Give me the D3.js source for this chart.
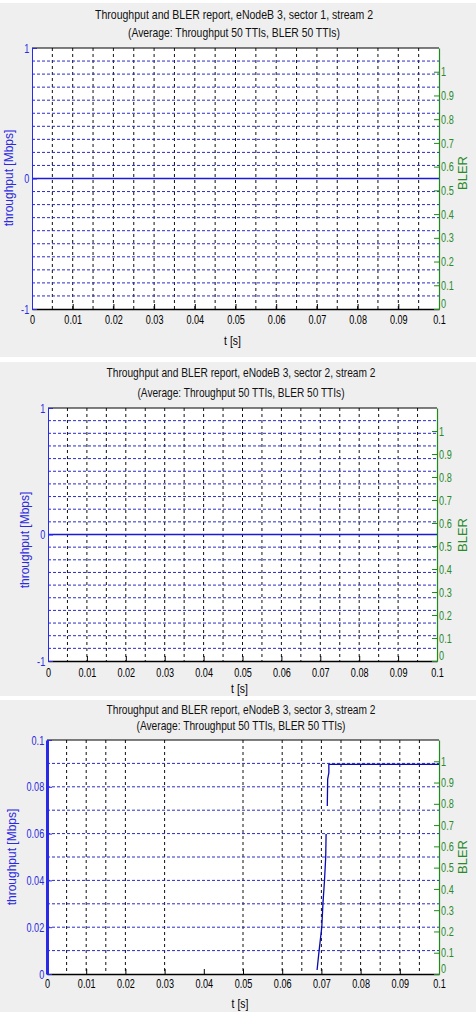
<!DOCTYPE html>
<html>
<head>
<meta charset="utf-8">
<script src="https://cdn.jsdelivr.net/npm/d3@7"></script>
<style>
  body { margin: 0; background: #fff; }
  svg { display: block; font-family: "Liberation Sans", Arial, sans-serif; }
</style>
</head>
<body>
<svg id="chart" width="476" height="1012"></svg>
<script>
// Titles, one pair of lines per sector
const titleLines = [
  ["Throughput and BLER report, eNodeB 3, sector 1, stream 2", "(Average: Throughput 50 TTIs, BLER 50 TTIs)"],
  ["Throughput and BLER report, eNodeB 3, sector 2, stream 2", "(Average: Throughput 50 TTIs, BLER 50 TTIs)"],
  ["Throughput and BLER report, eNodeB 3, sector 3, stream 2", "(Average: Throughput 50 TTIs, BLER 50 TTIs)"]
];

// Shared axis ticks
const timeTicks = [0, 0.01, 0.02, 0.03, 0.04, 0.05, 0.06, 0.07, 0.08, 0.09, 0.1];
const blerTicks = [0, 0.1, 0.2, 0.3, 0.4, 0.5, 0.6, 0.7, 0.8, 0.9, 1];

// Vertical grid (every 0.005 s); sector 3 screenshot lost a few lines
const timeGridFull = [0.005, 0.01, 0.015, 0.02, 0.025, 0.03, 0.035, 0.04, 0.045, 0.05,
                      0.055, 0.06, 0.065, 0.07, 0.075, 0.08, 0.085, 0.09, 0.095];
const timeGridSector3 = [0.005, 0.01, 0.015, 0.02, 0.03, 0.05, 0.06, 0.065, 0.07,
                         0.075, 0.08, 0.085, 0.09, 0.095];

// Throughput axes
const thrTicksWide = [-1, 0, 1];
const thrGridWide = [-0.9, -0.8, -0.7, -0.6, -0.5, -0.4, -0.3, -0.2, -0.1, 0,
                     0.1, 0.2, 0.3, 0.4, 0.5, 0.6, 0.7, 0.8, 0.9];
const thrTicksSector3 = [0, 0.02, 0.04, 0.06, 0.08, 0.1];
const thrGridSector3 = [0.01, 0.02, 0.03, 0.04, 0.05, 0.06, 0.07, 0.08, 0.09];

// Throughput series [s, Mbps]
const sector1Time = [0, 0.1];
const sector1Thr = [0, 0];
const sector2Time = [0, 0.1];
const sector2Thr = [0, 0];
// NaN marks the gap in the drawn line
const sector3Time = [0.0689, 0.0694, 0.0701, 0.0704, 0.0708, 0.0711, 0.0712, 0.0713,
                     0.0715, 0.0716, 0.0719, 0.0719, 0.1];
const sector3Thr = [0.0017, 0.0098, 0.0201, 0.0303, 0.0402, 0.0500, 0.0598, NaN,
                    0.0718, 0.0833, 0.0860, 0.0896, 0.0896];

const svg = d3.select("#chart");

const fmt = d => d === 0 ? "0" : String(+d.toFixed(3));
const FONT = "Liberation Sans, Arial, sans-serif";

const panels = [
  {
    titles: titleLines[0], bgTop: 3, bgBottom: 357,
    left: 32, right: 439, top: 48, bottom: 309,
    titleX: 234, titleY: [19, 37], titleLen: [278, 212],
    thrDomain: [-1, 1], thrTicks: thrTicksWide, thrGrid: thrGridWide, timeGrid: timeGridFull,
    time: sector1Time, thr: sector1Thr, leftWidth: 1,
    xPad: 6, xTitleY: 345, yLabelX: 9, yLabelY: 178, blerX: 462, blerY: 173
  },
  {
    titles: titleLines[1], bgTop: 362, bgBottom: 696,
    left: 48, right: 437, top: 408, bottom: 661,
    titleX: 241, titleY: [377, 397], titleLen: [269, 207],
    thrDomain: [-1, 1], thrTicks: thrTicksWide, thrGrid: thrGridWide, timeGrid: timeGridFull,
    time: sector2Time, thr: sector2Thr, leftWidth: 1,
    xPad: 7, xTitleY: 693, yLabelX: 25, yLabelY: 540, blerX: 462, blerY: 535
  },
  {
    titles: titleLines[2], bgTop: 700, bgBottom: 1012,
    left: 47, right: 439, top: 740, bottom: 974,
    titleX: 241, titleY: [714, 730], titleLen: [269, 209],
    thrDomain: [0, 0.1], thrTicks: thrTicksSector3, thrGrid: thrGridSector3, timeGrid: timeGridSector3,
    time: sector3Time, thr: sector3Thr, leftWidth: 3,
    xPad: 5, xTitleY: 1008, yLabelX: 12, yLabelY: 857, blerX: 462, blerY: 857
  }
];

function styleTickText(sel, color) {
  sel.selectAll(".tick text")
    .attr("font-size", 13).attr("fill", color)
    .attr("font-family", FONT)
    .attr("transform", "scale(0.7,1)");
}

function drawPanel(p) {
  const g = svg.append("g");

  g.append("rect")
    .attr("x", 0).attr("y", p.bgTop)
    .attr("width", 476).attr("height", p.bgBottom - p.bgTop)
    .attr("fill", "#efefef");

  const x = d3.scaleLinear().domain([0, 0.1]).range([p.left, p.right]);
  const yL = d3.scaleLinear().domain(p.thrDomain).range([p.bottom, p.top]);
  const yR = d3.scaleLinear().domain([0, 1.1]).range([p.bottom, p.top]);

  g.append("rect")
    .attr("x", p.left).attr("y", p.top)
    .attr("width", p.right - p.left).attr("height", p.bottom - p.top)
    .attr("fill", "#fff");

  // Titles (squeezed to the screenshot's width)
  p.titles.forEach((t, i) => {
    g.append("text")
      .attr("x", p.titleX).attr("y", p.titleY[i])
      .attr("text-anchor", "middle")
      .attr("font-size", 13)
      .attr("textLength", p.titleLen[i])
      .attr("lengthAdjust", "spacingAndGlyphs")
      .attr("fill", "#111")
      .text(t);
  });

  // Grid
  g.append("g").selectAll("line")
    .data(p.timeGrid)
    .join("line")
    .attr("x1", d => x(d)).attr("x2", d => x(d))
    .attr("y1", p.top).attr("y2", p.bottom)
    .attr("stroke", "#111")
    .attr("stroke-width", 1)
    .attr("stroke-dasharray", "3,3");

  g.append("g").selectAll("line")
    .data(p.thrGrid)
    .join("line")
    .attr("x1", p.left).attr("x2", p.right)
    .attr("y1", d => yL(d)).attr("y2", d => yL(d))
    .attr("stroke", "#2a2ac8")
    .attr("stroke-width", 1)
    .attr("stroke-dasharray", "3,2");

  // Throughput line
  const series = p.time.map((t, i) => [t, p.thr[i]]);
  const line = d3.line()
    .defined(d => !isNaN(d[1]))
    .x(d => x(d[0]))
    .y(d => yL(d[1]));

  g.append("path")
    .datum(series)
    .attr("fill", "none")
    .attr("stroke", p.thrDomain[0] < 0 ? "#1a1ad8" : "#0a0ab4")
    .attr("stroke-width", p.thrDomain[0] < 0 ? 1.6 : 1.3)
    .attr("d", line);

  // Top border
  g.append("line")
    .attr("x1", p.left).attr("x2", p.right)
    .attr("y1", p.top).attr("y2", p.top)
    .attr("stroke", "#000");

  // Bottom axis
  const xAxis = g.append("g")
    .attr("transform", `translate(0,${p.bottom})`)
    .call(d3.axisBottom(x).tickValues(timeTicks).tickFormat(fmt)
      .tickSize(-5).tickSizeOuter(0).tickPadding(p.xPad));
  xAxis.select(".domain").attr("stroke", "#000").attr("stroke-width", 1.5);
  xAxis.selectAll(".tick line").attr("stroke", "#000");
  styleTickText(xAxis, "#000");

  // Left axis (throughput)
  const yAxisL = g.append("g")
    .attr("transform", `translate(${p.left},0)`)
    .call(d3.axisLeft(yL).tickValues(p.thrTicks).tickFormat(fmt)
      .tickSize(-5).tickSizeOuter(0).tickPadding(4));
  yAxisL.select(".domain").attr("stroke", "#2a2ae6").attr("stroke-width", p.leftWidth);
  yAxisL.selectAll(".tick line").attr("stroke", "#2a2ae6");
  styleTickText(yAxisL, "#2a2ae0");

  // Right axis (BLER); lift the 0 label clear of the time labels
  const yAxisR = g.append("g")
    .attr("transform", `translate(${p.right},0)`)
    .call(d3.axisRight(yR).tickValues(blerTicks).tickFormat(fmt)
      .tickSize(-5).tickSizeOuter(0).tickPadding(3));
  yAxisR.select(".domain").attr("stroke", "#1f8a1f").attr("stroke-width", 1.2);
  yAxisR.selectAll(".tick line").attr("stroke", "#1f8a1f");
  styleTickText(yAxisR, "#2a8a2a");
  yAxisR.selectAll(".tick text").filter(d => d === 0).attr("dy", "-0.1em");

  // Axis titles
  g.append("text")
    .attr("transform", `translate(${(p.left + p.right) / 2 - 3},${p.xTitleY}) scale(0.8,1)`)
    .attr("text-anchor", "middle")
    .attr("font-size", 13)
    .attr("fill", "#000")
    .text("t [s]");

  g.append("text")
    .attr("transform", `translate(${p.yLabelX},${p.yLabelY}) rotate(-90)`)
    .attr("text-anchor", "middle")
    .attr("dy", "0.35em")
    .attr("font-size", 12)
    .attr("fill", "#2a2ae0")
    .text("throughput [Mbps]");

  g.append("text")
    .attr("transform", `translate(${p.blerX},${p.blerY}) rotate(-90)`)
    .attr("text-anchor", "middle")
    .attr("dy", "0.35em")
    .attr("font-size", 13)
    .attr("fill", "#2a8a2a")
    .text("BLER");
}

panels.forEach(drawPanel);
</script>
</body>
</html>
